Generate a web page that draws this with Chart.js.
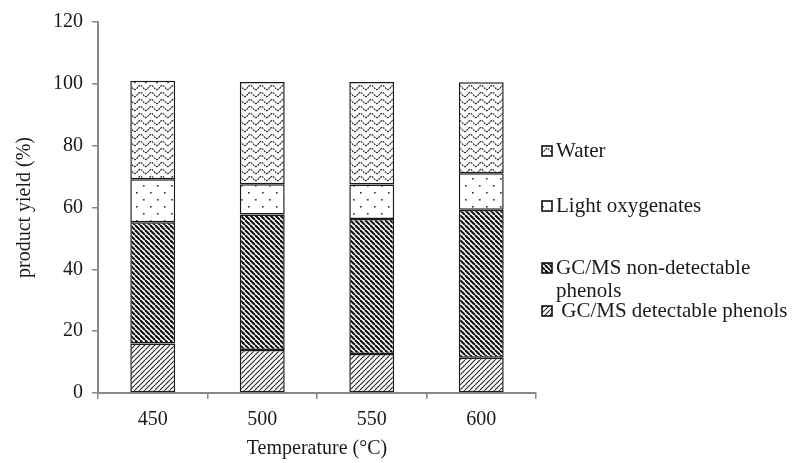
<!DOCTYPE html>
<html>
<head>
<meta charset="utf-8">
<script src="https://cdn.jsdelivr.net/npm/chart.js@4/dist/chart.umd.min.js"></script>
<style>
  html, body { margin: 0; padding: 0; background: #fff; }
  #wrap { width: 793px; height: 463px; }
</style>
</head>
<body>
<div id="wrap"><canvas id="c" width="793" height="463"></canvas></div>
<script>
// Product yields (%) by pyrolysis temperature
const temperatures = ['450', '500', '550', '600'];
const detectablePhenols = [16.0, 13.9, 12.6, 11.4];
const nonDetectablePhenols = [39.2, 43.8, 43.7, 47.9];
const lightOxygenates = [13.9, 9.8, 11.1, 11.8];
const water = [31.9, 33.1, 33.2, 29.4];
const yTicks = [0, 20, 40, 60, 80, 100, 120];

const FONT = '"Liberation Serif", "Times New Roman", serif';

function tile(w, h, draw) {
  const cv = document.createElement('canvas');
  cv.width = w; cv.height = h;
  const g = cv.getContext('2d');
  g.fillStyle = '#fff';
  g.fillRect(0, 0, w, h);
  draw(g, w, h);
  return document.getElementById('c').getContext('2d').createPattern(cv, 'repeat');
}

// "/" thin hatching
const hatchFwd = tile(5, 5, (g, s) => {
  g.strokeStyle = '#222'; g.lineWidth = 1.1;
  for (let k = -1; k <= 1; k++) {
    g.beginPath(); g.moveTo(k * s, s); g.lineTo(k * s + s, 0); g.stroke();
  }
});
// "\" heavy hatching
const hatchBack = tile(5, 5, (g, s) => {
  g.strokeStyle = '#111'; g.lineWidth = 2.1;
  for (let k = -1; k <= 1; k++) {
    g.beginPath(); g.moveTo(k * s, 0); g.lineTo(k * s + s, s); g.stroke();
  }
});
// sparse staggered dots
const dots = tile(14, 14, (g) => {
  g.fillStyle = '#333';
  g.fillRect(3, 3, 1.6, 1.6);
  g.fillRect(10, 10, 1.6, 1.6);
});
// horizontal waves
const waves = tile(11, 7, (g, w, h) => {
  g.strokeStyle = '#2a2a2a'; g.lineWidth = 1.2;
  g.setLineDash([2, 0.8]);
  g.beginPath();
  for (let x = 0; x <= w; x += 0.5) {
    const y = 3.5 + 2.1 * Math.sin((x / w) * Math.PI * 2);
    if (x === 0) g.moveTo(x, y); else g.lineTo(x, y);
  }
  g.stroke();
});

const datasets = [
  { label: ' GC/MS detectable phenols', data: detectablePhenols, backgroundColor: hatchFwd },
  { label: 'GC/MS non-detectable\nphenols', data: nonDetectablePhenols, backgroundColor: hatchBack },
  { label: 'Light oxygenates', data: lightOxygenates, backgroundColor: dots },
  { label: 'Water', data: water, backgroundColor: waves }
].map(d => Object.assign(d, {
  borderColor: '#1a1a1a', borderWidth: 1.5, borderSkipped: false,
  categoryPercentage: 1.0, barPercentage: 0.41
}));

// Legend rows on the right, top to bottom
const legendRows = [
  { ds: 3, y: 151 },
  { ds: 2, y: 206 },
  { ds: 1, y: 268 },
  { ds: 0, y: 311 }
];

const sideLegend = {
  id: 'sideLegend',
  afterDraw(chart) {
    const ctx = chart.ctx;
    ctx.save();
    ctx.font = '21px ' + FONT;
    ctx.textBaseline = 'middle';
    legendRows.forEach(r => {
      const ds = chart.data.datasets[r.ds];
      const bx = 542, by = r.y - 5, bs = 10;
      ctx.fillStyle = ds.backgroundColor;
      ctx.fillRect(bx, by, bs, bs);
      ctx.strokeStyle = '#111';
      ctx.lineWidth = 1.6;
      ctx.strokeRect(bx, by, bs, bs);
      ctx.fillStyle = '#1a1a1a';
      const lines = ds.label.split('\n');
      lines.forEach((t, i) => ctx.fillText(t, 556, r.y + i * 23));
    });
    ctx.restore();
  }
};

new Chart(document.getElementById('c'), {
  type: 'bar',
  data: { labels: temperatures, datasets },
  options: {
    responsive: false,
    animation: false,
    devicePixelRatio: 1,
    layout: { padding: { top: 22, right: 257, bottom: 2, left: 9 } },
    plugins: { legend: { display: false }, tooltip: { enabled: false } },
    scales: {
      x: {
        stacked: true,
        grid: { display: true, offset: true, drawOnChartArea: false, tickLength: 6, color: '#888', lineWidth: 1.5 },
        border: { color: '#888', width: 2 },
        ticks: { color: '#1a1a1a', font: { family: FONT, size: 20 }, padding: 9 },
        title: { display: true, text: 'Temperature (°C)', color: '#1a1a1a', font: { family: FONT, size: 20 }, padding: { top: -4, bottom: 0 } }
      },
      y: {
        stacked: true,
        min: 0, max: 120,
        afterBuildTicks(axis) { axis.ticks = yTicks.map(v => ({ value: v })); },
        grid: { display: true, drawOnChartArea: false, tickLength: 6, color: '#888', lineWidth: 1.5 },
        border: { color: '#888', width: 2 },
        ticks: { color: '#1a1a1a', font: { family: FONT, size: 20 }, padding: 9 },
        title: { display: true, text: 'product yield (%)', color: '#1a1a1a', font: { family: FONT, size: 20 }, padding: { bottom: 7 } }
      }
    }
  },
  plugins: [sideLegend]
});
</script>
</body>
</html>
